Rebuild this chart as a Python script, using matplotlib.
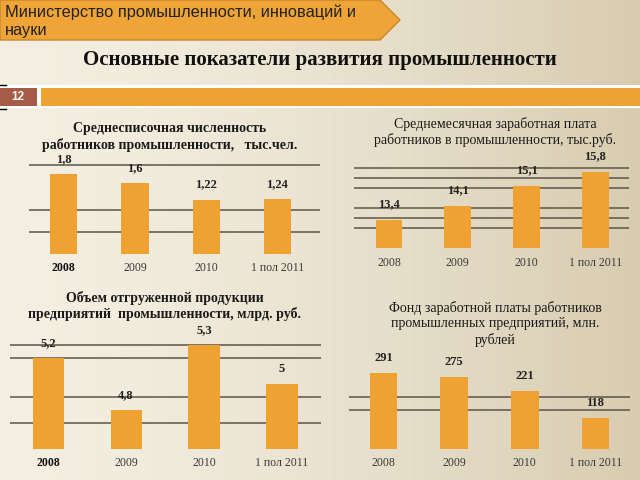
import numpy as np
import matplotlib
matplotlib.use("Agg")
import matplotlib.pyplot as plt
from matplotlib.patches import Polygon, Rectangle

# данные
years = ["2008", "2009", "2010", "1 пол 2011"]
staff = [1.8, 1.6, 1.22, 1.24]            # тыс.чел.
staff_lbl = ["1,8", "1,6", "1,22", "1,24"]
salary = [13.4, 14.1, 15.1, 15.8]          # тыс.руб.
salary_lbl = ["13,4", "14,1", "15,1", "15,8"]
shipped = [5.2, 4.8, 5.3, 5.0]             # млрд.руб.
shipped_lbl = ["5,2", "4,8", "5,3", "5"]
fund = [291, 275, 221, 118]                # млн.руб.
fund_lbl = ["291", "275", "221", "118"]

W, H = 640, 480
BAR = "#efa232"
GRID = "#5c5446"
SERIF = "Liberation Serif"

fig = plt.figure(figsize=(6.4, 4.8), dpi=100)

# фон (градиент)
bg = fig.add_axes([0, 0, 1, 1])
t = np.linspace(0, 1, 256)
c0 = np.array([244, 239, 226]) / 255
c1 = np.array([216, 204, 176]) / 255
grad = c0[None, :] * (1 - t[:, None] ** 1.5) + c1[None, :] * t[:, None] ** 1.5
bg.imshow(grad[None, :, :], extent=[0, W, H, 0], aspect="auto")
bg.set_xlim(0, W)
bg.set_ylim(H, 0)
bg.axis("off")

# шапка
bg.add_patch(Polygon([(0, 0), (380, 0), (400, 20), (380, 40), (0, 40)],
                     closed=True, fc="#eea436", ec="#c98527", lw=1))
bg.text(5, 12, "Министерство промышленности, инноваций и", fontsize=11.8,
        family="Liberation Sans", color="#222222", va="center")
bg.text(5, 31, "науки", fontsize=11.8, family="Liberation Sans",
        color="#222222", va="center")
bg.text(320, 60, "Основные показатели развития промышленности", fontsize=15,
        family=SERIF, weight="bold", ha="center", va="center", color="#111111")

# полоса с номером слайда
bg.add_patch(Rectangle((0, 85), W, 23, fc="white", ec="none"))
bg.add_patch(Rectangle((0, 88), 37, 18, fc="#a55b45", ec="none"))
bg.add_patch(Rectangle((41, 88), W - 41, 18, fc="#efa232", ec="none"))
bg.text(18, 97, "12", fontsize=8.5, weight="bold", color="white",
        ha="center", va="center", family="Liberation Sans")
bg.plot([0, 6], [85, 85], color="black", lw=1)
bg.plot([0, 6], [109, 109], color="black", lw=1)


def px_axes(x0, y0, x1, y1):
    return fig.add_axes([x0 / W, 1 - y1 / H, (x1 - x0) / W, (y1 - y0) / H])


def bar_chart(box, vals, lbls, ylim, grid, title, title_xy, bold_title,
              bold_first, lbl_off, width, xlim):
    ax = px_axes(*box)
    ax.set_facecolor("none")
    x = np.arange(len(vals))
    ax.bar(x, vals, width=width, color=BAR, zorder=3)
    ax.set_ylim(*ylim)
    ax.set_xlim(*xlim)
    ax.set_yticks(grid)
    ax.yaxis.grid(True, color=GRID, lw=1.1, zorder=1)
    ax.tick_params(axis="y", length=0, labelleft=False)
    ax.tick_params(axis="x", length=0, pad=6)
    ax.set_xticks(x)
    ax.set_xticklabels(years, family=SERIF, fontsize=8.5, color="#3a3a3a")
    if bold_first:
        ax.get_xticklabels()[0].set_fontweight("bold")
        ax.get_xticklabels()[0].set_color("#111111")
    for s in ax.spines.values():
        s.set_visible(False)
    for xi, v, l in zip(x, vals, lbls):
        ax.annotate(l, (xi, v), xytext=(0, lbl_off), textcoords="offset points",
                    ha="center", va="center", fontsize=9, family=SERIF,
                    weight="bold", color="#222222", zorder=4)
    bg.text(title_xy[0], title_xy[1], title, fontsize=10, family=SERIF,
            weight="bold" if bold_title else "normal", ha="center", va="center",
            linespacing=1.2, color="#1a1a1a")
    return ax


bar_chart((29, 160, 320, 254), staff, staff_lbl, (0, 2.12), [0.5, 1.0, 2.0],
          "Среднесписочная численность\nработников промышленности,   тыс.чел.",
          (170, 137), True, True, 11, 0.38, (-0.49, 3.6))
bar_chart((354, 160, 629, 248.3), salary, salary_lbl, (12, 16.42),
          [13, 13.5, 14, 15, 15.5, 16],
          "Среднемесячная заработная плата\nработников в промышленности, тыс.руб.",
          (495, 132), False, False, 12, 0.39, (-0.51, 3.49))
bar_chart((10, 335, 321, 449), shipped, shipped_lbl, (4.5, 5.377),
          [4.7, 4.9, 5.2, 5.3],
          "Объем отгруженной продукции\nпредприятий  промышленности, млрд. руб.",
          (165, 306), True, True, 11, 0.4, (-0.49, 3.5))
bar_chart((349, 360, 630, 449), fund, fund_lbl, (0, 340), [150, 200],
          "Фонд заработной платы работников\nпромышленных предприятий, млн.\nрублей",
          (495, 324), False, False, 11, 0.39, (-0.49, 3.49))

fig.savefig("out.png", dpi=100)
